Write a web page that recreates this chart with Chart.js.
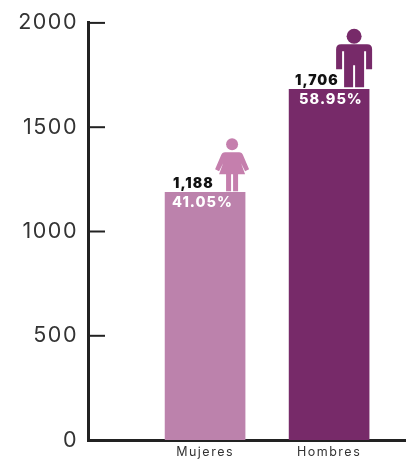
<!DOCTYPE html>
<html>
<head>
<meta charset="utf-8">
<style>
  html, body { margin: 0; padding: 0; background: #fff; }
  canvas { display: block; }
</style>
<script src="https://cdn.jsdelivr.net/npm/chart.js@4/dist/chart.umd.min.js"></script>
</head>
<body>
<canvas id="myChart" width="406" height="463"></canvas>
<script>
const categories = ['Mujeres', 'Hombres'];
const values = [1188, 1682];          // bar heights as read against the axis
const countLabels = ['1,188', '1,706'];
const shareLabels = ['41.05%', '58.95%'];
const barColors = ['#BC82AC', '#772A69'];
const iconColors = ['#C57FAD', '#772A69'];
const yTicks = [0, 500, 1000, 1500, 2000];

const FONT = 'Inter, "Liberation Sans", sans-serif';

// little woman icon, origin = middle of the feet
function drawWoman(ctx, x, y) {
  ctx.beginPath();
  ctx.arc(x, y - 47, 6, 0, Math.PI * 2);
  ctx.fill();
  ctx.beginPath();
  ctx.moveTo(x - 7, y - 39);
  ctx.lineTo(x + 7, y - 39);
  ctx.quadraticCurveTo(x + 10, y - 39, x + 11, y - 36);
  ctx.lineTo(x + 17, y - 22);
  ctx.lineTo(x + 13, y - 20);
  ctx.lineTo(x + 9, y - 28);
  ctx.lineTo(x + 13, y - 17);
  ctx.lineTo(x - 13, y - 17);
  ctx.lineTo(x - 9, y - 28);
  ctx.lineTo(x - 13, y - 20);
  ctx.lineTo(x - 17, y - 22);
  ctx.lineTo(x - 11, y - 36);
  ctx.quadraticCurveTo(x - 10, y - 39, x - 7, y - 39);
  ctx.fill();
  ctx.fillRect(x - 6, y - 18, 5, 18);
  ctx.fillRect(x + 1, y - 18, 5, 18);
}

// little man icon, origin = middle of the feet
function drawMan(ctx, x, y) {
  ctx.beginPath();
  ctx.arc(x, y - 51, 7.5, 0, Math.PI * 2);
  ctx.fill();
  ctx.beginPath();
  ctx.moveTo(x - 13, y - 43);
  ctx.lineTo(x + 13, y - 43);
  ctx.quadraticCurveTo(x + 18, y - 43, x + 18, y - 38);
  ctx.lineTo(x + 18, y - 18);
  ctx.lineTo(x + 12, y - 18);
  ctx.lineTo(x + 12, y - 36);
  ctx.lineTo(x + 10, y - 36);
  ctx.lineTo(x + 10, y);
  ctx.lineTo(x + 1, y);
  ctx.lineTo(x + 1, y - 22);
  ctx.lineTo(x - 1, y - 22);
  ctx.lineTo(x - 1, y);
  ctx.lineTo(x - 10, y);
  ctx.lineTo(x - 10, y - 36);
  ctx.lineTo(x - 12, y - 36);
  ctx.lineTo(x - 12, y - 18);
  ctx.lineTo(x - 18, y - 18);
  ctx.lineTo(x - 18, y - 38);
  ctx.quadraticCurveTo(x - 18, y - 43, x - 13, y - 43);
  ctx.fill();
}

// canvas gets reset when the chart sizes it, so spacing is set here
const wideText = {
  id: 'wideText',
  beforeDraw(chart) {
    chart.ctx.letterSpacing = '1.5px';
  }
};

// short inner tick marks on the y axis
const innerTicks = {
  id: 'innerTicks',
  afterDraw(chart) {
    const { ctx, scales: { y }, chartArea } = chart;
    ctx.save();
    ctx.strokeStyle = '#222';
    ctx.lineWidth = 2;
    yTicks.forEach(t => {
      const py = y.getPixelForValue(t);
      ctx.beginPath();
      ctx.moveTo(chartArea.left, py);
      ctx.lineTo(chartArea.left + 17, py);
      ctx.stroke();
    });
    ctx.restore();
  }
};

// count and share labels plus the icons standing on the bars
const barNotes = {
  id: 'barNotes',
  afterDatasetsDraw(chart) {
    const ctx = chart.ctx;
    chart.getDatasetMeta(0).data.forEach((bar, i) => {
      ctx.save();
      ctx.textBaseline = 'middle';
      ctx.textAlign = 'left';
      ctx.letterSpacing = '1px';
      ctx.font = '900 14px ' + FONT;
      ctx.fillStyle = '#111';
      ctx.fillText(countLabels[i], bar.x - (i === 0 ? 32 : 34), bar.y - 8);
      ctx.font = '800 14.5px ' + FONT;
      ctx.fillStyle = '#fff';
      ctx.fillText(shareLabels[i], bar.x - (i === 0 ? 33 : 30), bar.y + 10);
      ctx.fillStyle = iconColors[i];
      if (i === 0) drawWoman(ctx, bar.x + 27, bar.y - 1);
      else drawMan(ctx, bar.x + 25, bar.y - 2);
      ctx.restore();
    });
  }
};

const ctx1 = document.getElementById('myChart').getContext('2d');

new Chart(ctx1, {
  type: 'bar',
  data: {
    datasets: [{
      data: values.map((v, i) => ({ x: i + 1, y: v })),
      backgroundColor: barColors,
      barThickness: 80
    }]
  },
  options: {
    responsive: false,
    animation: false,
    layout: { autoPadding: false, padding: { top: 20 } },
    plugins: { legend: { display: false }, tooltip: { enabled: false } },
    scales: {
      x: {
        type: 'linear',
        offset: false,
        min: 0.056,
        max: 2.62,
        afterFit: s => { s.height = 19; },
        border: { color: '#222', width: 3 },
        grid: { display: false, drawTicks: false, offset: false },
        ticks: {
          stepSize: 1,
          includeBounds: false,
          autoSkip: false,
          maxRotation: 0,
          padding: 5,
          color: '#333',
          font: { family: FONT, size: 12.5 },
          callback: v => categories[v - 1] || ''
        }
      },
      y: {
        min: 0,
        max: 2000,
        afterFit: s => { s.width = 88; },
        afterBuildTicks: s => { s.ticks = yTicks.map(value => ({ value })); },
        border: { color: '#222', width: 3 },
        grid: { display: false, drawTicks: false },
        ticks: {
          padding: 10,
          color: '#333',
          font: { family: FONT, size: 21.5 },
          callback: v => String(v)
        }
      }
    }
  },
  plugins: [wideText, innerTicks, barNotes]
});
</script>
</body>
</html>
